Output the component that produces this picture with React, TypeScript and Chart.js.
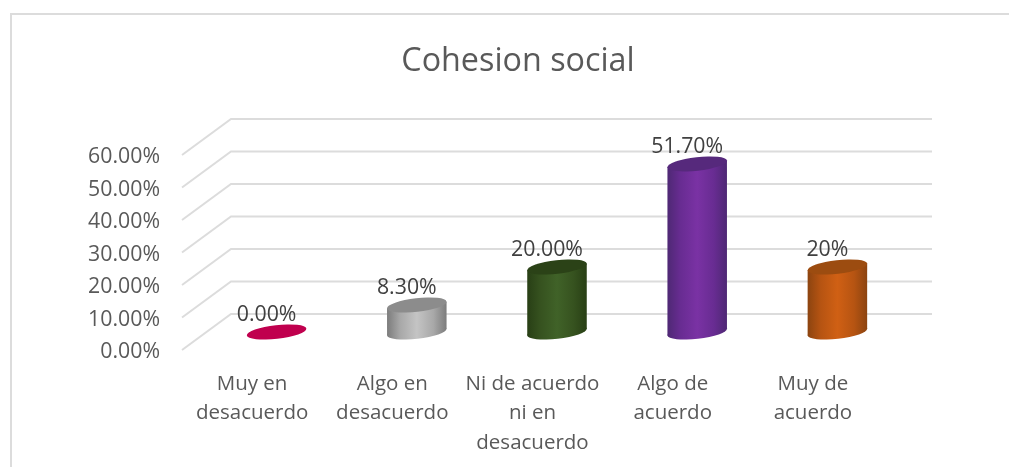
import React, { useEffect, useRef } from "react";
import { Chart, registerables } from "chart.js";

Chart.register(...registerables);

const categories: string[][] = [
  ["Muy en", "desacuerdo"],
  ["Algo en", "desacuerdo"],
  ["Ni de acuerdo", "ni en", "desacuerdo"],
  ["Algo de", "acuerdo"],
  ["Muy de", "acuerdo"],
];
const values = [0, 8.3, 20, 51.7, 20];
const valueLabels = ["0.00%", "8.30%", "20.00%", "51.70%", "20%"];
const bodyColors = ["#C0004E", "#C4C4C4", "#406228", "#7A32A4", "#D06014"];
const shoulderColors = ["#C0004E", "#A8A8A8", "#36521F", "#682C92", "#B65412"];
const edgeColors = ["#C0004E", "#7C7C7C", "#283F15", "#4E2874", "#8C4410"];
const capColors = ["#C0004E", "#8C8C8C", "#2B4217", "#56297C", "#9C4C10"];

const FONT = '"Open Sans", sans-serif';
const TEXT = "#595959";
const GRID = "#DCDCDC";
const DEPTH_X = 49;
const DEPTH_Y = -36;
// Open Sans sits above the middle of its line, so the scale runs 2px below the drawn floor.
const LIFT = -2;

const cylinderPlugin = {
  id: "cylinder3d",
  afterLayout(chart: any) {
    chart.titleBlock.left = 27;
    chart.titleBlock.right = chart.width;
  },
  beforeDraw(chart: any) {
    const { ctx, width, height } = chart;
    ctx.save();
    ctx.fillStyle = "#FFFFFF";
    ctx.fillRect(0, 0, width, height);
    ctx.strokeStyle = GRID;
    ctx.lineWidth = 2;
    ctx.beginPath();
    ctx.moveTo(11, height);
    ctx.lineTo(11, 14);
    ctx.lineTo(width, 14);
    ctx.stroke();
    ctx.restore();
  },
  beforeDatasetsDraw(chart: any) {
    const { ctx, chartArea, scales } = chart;
    ctx.save();
    ctx.strokeStyle = GRID;
    ctx.lineWidth = 2;
    scales.y.ticks.forEach((t: any) => {
      const y = scales.y.getPixelForValue(t.value) + LIFT;
      ctx.beginPath();
      ctx.moveTo(chartArea.left, y);
      ctx.lineTo(chartArea.left + DEPTH_X, y + DEPTH_Y);
      ctx.lineTo(chartArea.right + DEPTH_X, y + DEPTH_Y);
      ctx.stroke();
    });
    ctx.restore();
  },
  beforeDatasetDraw(chart: any, args: any) {
    const { ctx } = chart;
    const meta = chart.getDatasetMeta(args.index);
    const theta = (-6.5 * Math.PI) / 180;
    meta.data.forEach((bar: any, i: number) => {
      const cx = bar.x + DEPTH_X / 2;
      const topY = bar.y + DEPTH_Y / 2 + LIFT;
      const baseY = bar.base + DEPTH_Y / 2 + LIFT;
      const a = bar.width / 2 + 0.5;
      const b = 6.8;
      const c = Math.cos(theta);
      const s = Math.sin(theta);
      const ext = Math.sqrt(a * a * c * c + b * b * s * s);
      const dy = ((a * a - b * b) * s * c) / ext;
      ctx.save();
      if (values[i] > 0) {
        const g = ctx.createLinearGradient(cx - ext, 0, cx + ext, 0);
        g.addColorStop(0, edgeColors[i]);
        g.addColorStop(0.22, shoulderColors[i]);
        g.addColorStop(0.5, bodyColors[i]);
        g.addColorStop(0.78, shoulderColors[i]);
        g.addColorStop(1, edgeColors[i]);
        ctx.fillStyle = g;
        ctx.beginPath();
        ctx.ellipse(cx, baseY, a, b, theta, 0, Math.PI * 2);
        ctx.fill();
        ctx.beginPath();
        ctx.moveTo(cx - ext, topY - dy);
        ctx.lineTo(cx - ext, baseY - dy);
        ctx.lineTo(cx + ext, baseY + dy);
        ctx.lineTo(cx + ext, topY + dy);
        ctx.closePath();
        ctx.fill();
      }
      ctx.fillStyle = capColors[i];
      ctx.beginPath();
      ctx.ellipse(cx, topY, a, b, theta, 0, Math.PI * 2);
      ctx.fill();
      ctx.restore();
    });
    return false;
  },
  afterDatasetsDraw(chart: any) {
    const { ctx } = chart;
    const meta = chart.getDatasetMeta(0);
    ctx.save();
    ctx.font = `21.3px ${FONT}`;
    ctx.fillStyle = "#404040";
    ctx.textAlign = "center";
    ctx.textBaseline = "middle";
    meta.data.forEach((bar: any, i: number) => {
      ctx.fillText(valueLabels[i], bar.x + DEPTH_X / 2 - 10, bar.y + DEPTH_Y / 2 + LIFT - 17);
    });
    ctx.restore();
  },
};

export default function App() {
  const ref = useRef<HTMLCanvasElement>(null);
  useEffect(() => {
    if (!ref.current) return;
    const chart = new Chart(ref.current, {
      type: "bar",
      data: {
        labels: categories,
        datasets: [
          {
            label: "Cohesion social",
            data: values,
            backgroundColor: bodyColors,
            barPercentage: 0.42,
            categoryPercentage: 1,
          },
        ],
      },
      options: {
        responsive: false,
        animation: false,
        layout: { padding: { left: 0, right: 126, top: 0, bottom: 0 } },
        plugins: {
          legend: { display: false },
          tooltip: { enabled: false },
          title: {
            display: true,
            text: "Cohesion social",
            color: TEXT,
            font: { family: FONT, size: 32.3, weight: "normal", lineHeight: 1.2 },
            padding: { top: 42, bottom: 76.2 },
          },
        },
        scales: {
          x: {
            grid: { display: false, drawTicks: false },
            border: { display: false },
            ticks: {
              color: TEXT,
              padding: 17.5,
              maxRotation: 0,
              autoSkip: false,
              font: { family: FONT, size: 20.5, lineHeight: 1.43 },
            },
            afterFit(scale: any) {
              scale.height = 115;
            },
          },
          y: {
            min: 0,
            max: 60,
            grid: { display: false, drawTicks: false },
            border: { display: false },
            ticks: {
              stepSize: 10,
              color: TEXT,
              padding: 22,
              font: { family: FONT, size: 21.3 },
              callback: (v: any) => Number(v).toFixed(2) + "%",
            },
            afterFit(scale: any) {
              scale.width = 182;
            },
          },
        },
      },
      plugins: [cylinderPlugin],
    } as any);
    return () => chart.destroy();
  }, []);
  return (
    <canvas
      ref={ref}
      width={1009}
      height={467}
      style={{ position: "fixed", left: 0, top: 0, display: "block" }}
    />
  );
}
